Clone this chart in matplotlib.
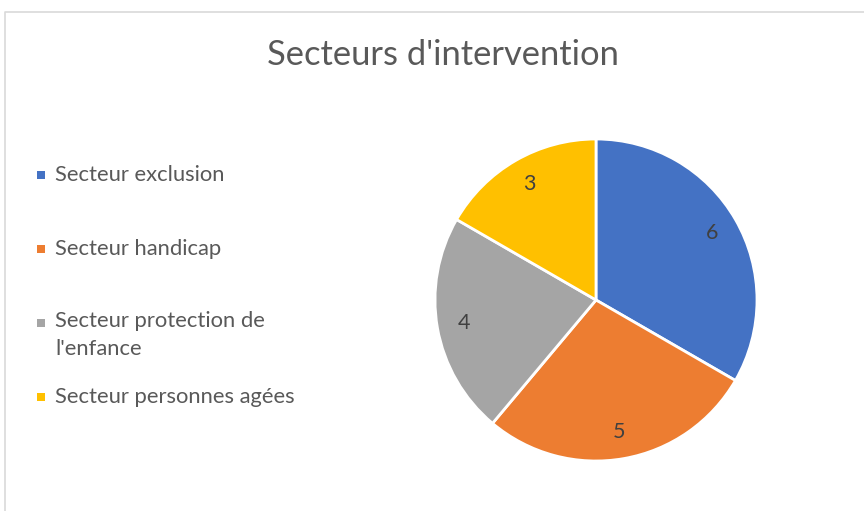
import matplotlib.pyplot as plt
from matplotlib.patches import Rectangle
from matplotlib.lines import Line2D

# data
categories = ["Secteur exclusion", "Secteur handicap",
              "Secteur protection de\nl'enfance", "Secteur personnes agées"]
values = [6, 5, 4, 3]
colors = ["#4472C4", "#ED7D31", "#A5A5A5", "#FFC000"]
title = "Secteurs d'intervention"

W, H = 864, 511
plt.rcParams['font.family'] = ['Lato', 'DejaVu Sans']
fig = plt.figure(figsize=(W / 100, H / 100), dpi=100)

# chart area border (only top and left visible)
fig.add_artist(Line2D([5 / W, 5 / W, 1], [0, 1 - 12 / H, 1 - 12 / H],
                      transform=fig.transFigure, color="#D9D9D9", lw=1.2))

fig.text(443 / W, 1 - 55 / H, title, ha="center", va="center",
         fontsize=24.8, color="#595959")

# pie
cx, cy, r = 596, 300, 161
ax = fig.add_axes([(cx - r) / W, (H - cy - r) / H, 2 * r / W, 2 * r / H])
ax.pie(values, colors=colors, startangle=90, counterclock=False,
       autopct=lambda p: "%d" % round(p * sum(values) / 100),
       pctdistance=0.83,
       wedgeprops=dict(edgecolor="white", linewidth=2),
       textprops=dict(fontsize=15.5, color="#404040"))
ax.set_xlim(-1, 1)
ax.set_ylim(-1, 1)
ax.axis("off")

# legend
rows = [175, 249, 323, 397]
for lab, col, y in zip(categories, colors, rows):
    fig.add_artist(Rectangle((37 / W, 1 - (y + 4) / H), 8 / W, 8 / H,
                             transform=fig.transFigure, color=col, lw=0))
    if "\n" in lab:
        fig.text(55 / W, 1 - (y - 12) / H, lab, ha="left", va="top",
                 fontsize=15.8, color="#595959", linespacing=1.5)
    else:
        fig.text(55 / W, 1 - y / H, lab, ha="left", va="center",
                 fontsize=15.8, color="#595959")

fig.savefig("out.png", dpi=100)
